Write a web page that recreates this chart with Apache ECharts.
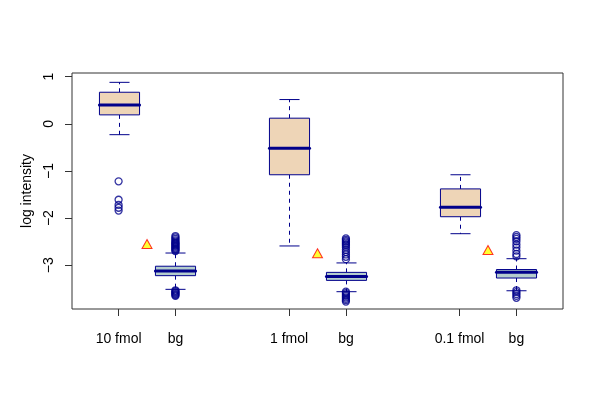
<!DOCTYPE html>
<html>
<head>
<meta charset="utf-8">
<script src="https://cdn.jsdelivr.net/npm/echarts@6/dist/echarts.min.js"></script>
<style>html,body{margin:0;padding:0;background:#fff;}#chart{width:600px;height:401px;}</style>
</head>
<body>
<div id="chart"></div>
<script>
// ---- data ----
const categories = ["10 fmol", "bg", "1 fmol", "bg", "0.1 fmol", "bg"];
const positions = [1, 2, 4, 5, 7, 8];
const whiskerLow  = [-0.23, -3.51, -2.59, -3.56, -2.33, -3.54];
const q1          = [ 0.19, -3.22, -1.08, -3.32, -1.97, -3.27];
const median      = [ 0.40, -3.12, -0.52, -3.24, -1.77, -3.15];
const q3          = [ 0.67, -3.02,  0.12, -3.15, -1.38, -3.09];
const whiskerHigh = [ 0.88, -2.74,  0.515, -2.95, -1.08, -2.86];
const outliers = [
  [-1.22, -1.61, -1.72, -1.78, -1.84],
  [-2.38, -2.41, -2.44, -2.47, -2.50, -2.52, -2.54, -2.56, -2.58, -2.60, -2.62, -2.64, -2.66, -2.68, -2.70,
   -3.53, -3.55, -3.57, -3.59, -3.61, -3.63, -3.65],
  [],
  [-2.43, -2.46, -2.49, -2.52, -2.55, -2.58, -2.62, -2.67, -2.72, -2.77, -2.82, -2.87,
   -3.56, -3.59, -3.62, -3.65, -3.68, -3.71, -3.74, -3.77],
  [],
  [-2.36, -2.40, -2.44, -2.49, -2.56, -2.62, -2.69, -2.76, -2.81,
   -3.53, -3.57, -3.61, -3.65, -3.69]
];
const markerX = [1.5, 4.5, 7.5];
const markerY = [-2.55, -2.745, -2.675];
const yTicks = [-3, -2, -1, 0, 1];

// ---- build ----
const boxData = positions.map((p, i) => [p, whiskerLow[i], q1[i], median[i], q3[i], whiskerHigh[i], i % 2]);
const outlierData = [];
outliers.forEach((arr, i) => arr.forEach(v => outlierData.push([positions[i], v])));
const markerData = markerX.map((x, i) => [x, markerY[i]]);
const labelMap = {};
positions.forEach((p, i) => labelMap[p] = categories[i]);

const BORDER = '#00008B';
const FILLS = ['#EED5B7', '#B4CDCD'];

function renderBox(params, api) {
  const x = api.value(0);
  const lo = api.value(1), a = api.value(2), m = api.value(3), b = api.value(4), hi = api.value(5);
  const t = api.value(6);
  const halfW = api.size([0.706, 0])[0] / 2;
  const pLo = api.coord([x, lo]), pA = api.coord([x, a]), pM = api.coord([x, m]), pB = api.coord([x, b]), pHi = api.coord([x, hi]);
  const cx = Math.round(pA[0]) + 0.5;
  const capW = halfW / 2;
  const dash = { stroke: BORDER, lineWidth: 1, lineDash: [4, 4] };
  const solid = { stroke: BORDER, lineWidth: 1 };
  return {
    type: 'group',
    children: [
      { type: 'line', shape: { x1: cx, y1: pB[1], x2: cx, y2: pHi[1] }, style: dash },
      { type: 'line', shape: { x1: cx, y1: pA[1], x2: cx, y2: pLo[1] }, style: dash },
      { type: 'line', shape: { x1: cx - capW, y1: pHi[1], x2: cx + capW, y2: pHi[1] }, style: solid },
      { type: 'line', shape: { x1: cx - capW, y1: pLo[1], x2: cx + capW, y2: pLo[1] }, style: solid },
      { type: 'rect', shape: { x: cx - halfW, y: pB[1], width: halfW * 2, height: pA[1] - pB[1] },
        style: { fill: FILLS[t], stroke: BORDER, lineWidth: 1 } },
      { type: 'line', shape: { x1: cx - halfW, y1: pM[1], x2: cx + halfW, y2: pM[1] },
        style: { stroke: BORDER, lineWidth: 3, lineCap: 'round' } }
    ]
  };
}

const chart = echarts.init(document.getElementById('chart'), null, { renderer: 'canvas' });
const FONT = 'Liberation Sans, Arial, Helvetica, sans-serif';
chart.setOption({
  animation: false,
  backgroundColor: '#ffffff',
  grid: { left: 72, right: 37, top: 73, bottom: 92, show: true, borderColor: '#333333', borderWidth: 1, backgroundColor: 'transparent' },
  xAxis: {
    type: 'value', min: 0.18, max: 8.82,
    splitLine: { show: false },
    axisLine: { show: false, onZero: false },
    axisTick: { show: true, customValues: positions, length: 7, inside: false, lineStyle: { color: '#333' } },
    axisLabel: { customValues: positions, formatter: v => labelMap[v] || '', color: '#000', fontSize: 14, fontFamily: FONT, margin: 23 }
  },
  yAxis: {
    type: 'value', min: -3.927, max: 1.078,
    name: 'log intensity', nameLocation: 'middle', nameGap: 38, nameRotate: 90,
    nameTextStyle: { color: '#000', fontSize: 14, fontFamily: FONT },
    splitLine: { show: false },
    axisLine: { show: false, onZero: false },
    axisTick: { show: true, customValues: yTicks, length: 7, lineStyle: { color: '#333' } },
    axisLabel: { customValues: yTicks, rotate: 90, color: '#000', fontSize: 14, fontFamily: FONT, margin: 16,
      formatter: v => (v < 0 ? '\u2212' + Math.abs(v) : String(v)) }
  },
  series: [
    { type: 'custom', renderItem: renderBox, data: boxData, encode: { x: 0, y: [1, 2, 3, 4, 5] }, z: 2 },
    { type: 'scatter', data: outlierData, symbol: 'circle', symbolSize: 7,
      itemStyle: { color: 'rgba(0,0,0,0)', borderColor: BORDER, borderWidth: 1.3 }, z: 3 },
    { type: 'scatter', data: markerData, symbol: 'triangle', symbolSize: [10, 9],
      itemStyle: { color: '#FFFF00', borderColor: '#FF0000', borderWidth: 1 }, z: 4 }
  ]
});
</script>
</body>
</html>
